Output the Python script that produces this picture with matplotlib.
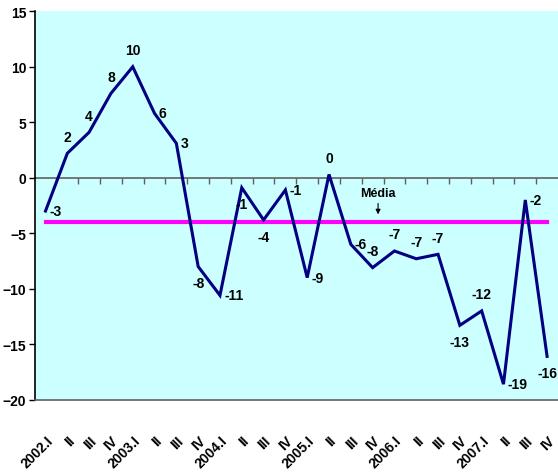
import matplotlib
matplotlib.use("Agg")
import matplotlib.pyplot as plt
import numpy as np

# ---- data ------------------------------------------------------------------
YEARS = ["2002", "2003", "2004", "2005", "2006", "2007"]
QUARTERS = ["I", "II", "III", "IV"]
VALUES = [-3.0, 2.2, 4.1, 7.6, 10.0, 5.8, 3.1, -8.0,
          -10.6, -0.9, -3.8, -1.1, -9.0, 0.3, -6.0, -8.1,
          -6.6, -7.3, -6.9, -13.3, -12.0, -18.6, -2.0, -16.1]
MEDIA = -4.0

# where each data label sits relative to its point
LABEL_POS = ["right", "above", "above", "above", "above", "right", "right", "below",
             "right", "below", "below", "right", "right", "above", "right", "above",
             "above", "above", "above", "below", "above", "right", "right", "below"]

# ---- style -------------------------------------------------------------------
PLOT_BG = "#CCFFFF"
LINE = "#000080"
MEAN = "#FF00FF"
AXIS_GRAY = "#606060"

plt.rcParams.update({
    "font.family": ["Liberation Sans", "DejaVu Sans"],
    "font.weight": "bold",
    "font.size": 10,
})

labels = [f"{y}.{q}" if q == "I" else q for y in YEARS for q in QUARTERS]
x = np.arange(len(VALUES))

fig = plt.figure(figsize=(5.58, 4.77), dpi=100)
ax = fig.add_axes([0.062, 0.16, 0.938, 0.8142])
ax.set_facecolor(PLOT_BG)

ax.plot(x, [MEDIA] * len(x), color=MEAN, lw=3.0, zorder=2)
ax.plot(x, VALUES, color=LINE, lw=2.2, zorder=3, solid_joinstyle="miter")

offsets = {
    "above": ((0, 7), "center", "bottom"),
    "below": ((0, -7), "center", "top"),
    "right": ((3, 0), "left", "center"),
}
for i, (v, pos) in enumerate(zip(VALUES, LABEL_POS)):
    off, ha, va = offsets[pos]
    ax.annotate(f"{int(round(v))}", (i, v), xytext=off, textcoords="offset points",
                ha=ha, va=va, fontsize=10, fontweight="bold", color="black", zorder=4)

ax.annotate("Média", xy=(15.25, -3.3), xytext=(15.25, -1.4),
            ha="center", va="center", fontsize=9, fontweight="bold",
            arrowprops=dict(arrowstyle="-|>", color="black", lw=0.8,
                            mutation_scale=7, shrinkA=1, shrinkB=0))

ax.set_xlim(-0.5, len(VALUES) - 0.5)
ax.set_ylim(-20, 15)
ax.set_yticks(range(-20, 16, 5))

ax.set_xticks(x)
ax.set_xticklabels(labels, rotation=45, ha="right", va="top", rotation_mode="anchor",
                   fontsize=10, fontweight="bold")
ax.tick_params(axis="x", length=0, pad=24)
ax.tick_params(axis="y", direction="out", length=4, width=1, color="black", pad=2,
               labelsize=10)

for s in ("top", "right"):
    ax.spines[s].set_visible(False)
ax.spines["left"].set_color("black")
ax.spines["left"].set_linewidth(1.2)
ax.spines["bottom"].set_color(AXIS_GRAY)
ax.spines["bottom"].set_linewidth(1.2)

# category axis crossing at zero, ticks between categories
sec = ax.secondary_xaxis(0, transform=ax.transData)
sec.set_alignment("bottom")
sec.set_xticks(x[:-1] + 0.5)
sec.tick_params(direction="out", length=4, width=1, color=AXIS_GRAY, labelbottom=False)
sec.spines["bottom"].set_color(AXIS_GRAY)
sec.spines["bottom"].set_linewidth(1.2)

fig.savefig("out.png", dpi=100, facecolor="white")
